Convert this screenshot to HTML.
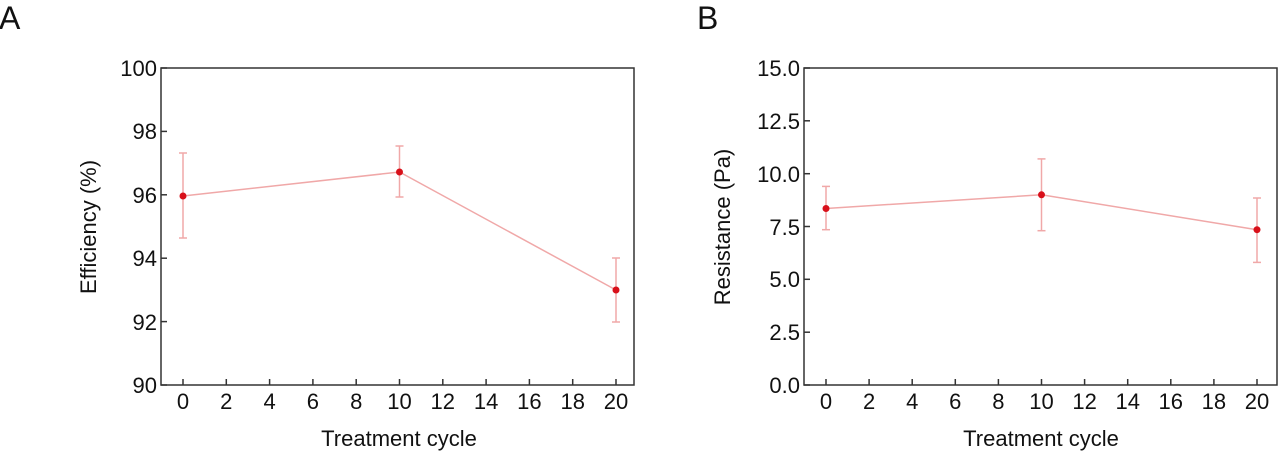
<!DOCTYPE html>
<html><head><style>body{margin:0;background:#fff}svg{display:block}</style></head><body>
<svg width="1280" height="451" xmlns="http://www.w3.org/2000/svg" font-family="Liberation Sans, Arial, sans-serif" fill="#111">
<text x="-1" y="29" font-size="32">A</text>
<text x="697" y="29" font-size="32">B</text>
<!-- Panel A -->
<g>
<rect x="161" y="68" width="473" height="317" fill="none" stroke="#333" stroke-width="1.5"/>
<g stroke="#333" stroke-width="1.5">
<line x1="161" y1="68" x2="167" y2="68"/><line x1="161" y1="131.4" x2="167" y2="131.4"/><line x1="161" y1="194.8" x2="167" y2="194.8"/><line x1="161" y1="258.2" x2="167" y2="258.2"/><line x1="161" y1="321.6" x2="167" y2="321.6"/><line x1="161" y1="385" x2="167" y2="385"/>
</g>
<g font-size="22" text-anchor="end">
<text x="157" y="76">100</text><text x="157" y="139">98</text><text x="157" y="203">96</text><text x="157" y="266">94</text><text x="157" y="330">92</text><text x="157" y="393">90</text>
</g>
<g stroke="#333" stroke-width="1.5">
<line x1="183" y1="385" x2="183" y2="379"/><line x1="226.3" y1="385" x2="226.3" y2="379"/><line x1="269.6" y1="385" x2="269.6" y2="379"/><line x1="312.9" y1="385" x2="312.9" y2="379"/><line x1="356.2" y1="385" x2="356.2" y2="379"/><line x1="399.5" y1="385" x2="399.5" y2="379"/><line x1="442.8" y1="385" x2="442.8" y2="379"/><line x1="486.1" y1="385" x2="486.1" y2="379"/><line x1="529.4" y1="385" x2="529.4" y2="379"/><line x1="572.7" y1="385" x2="572.7" y2="379"/><line x1="616" y1="385" x2="616" y2="379"/>
</g>
<g font-size="22" text-anchor="middle">
<text x="183" y="409">0</text><text x="226.3" y="409">2</text><text x="269.6" y="409">4</text><text x="312.9" y="409">6</text><text x="356.2" y="409">8</text><text x="399.5" y="409">10</text><text x="442.8" y="409">12</text><text x="486.1" y="409">14</text><text x="529.4" y="409">16</text><text x="572.7" y="409">18</text><text x="616" y="409">20</text>
</g>
<text x="399" y="446" font-size="22" text-anchor="middle">Treatment cycle</text>
<text transform="translate(96,227) rotate(-90)" font-size="22" text-anchor="middle">Efficiency (%)</text>
<g stroke="#f0a8a8" stroke-width="1.5" fill="none">
<polyline points="183,196 399.5,172 616,290"/>
<line x1="183" y1="153" x2="183" y2="238"/><line x1="179" y1="153" x2="187" y2="153"/><line x1="179" y1="238" x2="187" y2="238"/>
<line x1="399.5" y1="146" x2="399.5" y2="197"/><line x1="395.5" y1="146" x2="403.5" y2="146"/><line x1="395.5" y1="197" x2="403.5" y2="197"/>
<line x1="616" y1="258" x2="616" y2="322"/><line x1="612" y1="258" x2="620" y2="258"/><line x1="612" y1="322" x2="620" y2="322"/>
</g>
<g fill="#d8101a"><circle cx="183" cy="196" r="3.5"/><circle cx="399.5" cy="172" r="3.5"/><circle cx="616" cy="290" r="3.5"/></g>
</g>
<!-- Panel B -->
<g>
<rect x="804" y="68" width="473" height="317" fill="none" stroke="#333" stroke-width="1.5"/>
<g stroke="#333" stroke-width="1.5">
<line x1="804" y1="68" x2="810" y2="68"/><line x1="804" y1="120.8" x2="810" y2="120.8"/><line x1="804" y1="173.7" x2="810" y2="173.7"/><line x1="804" y1="226.5" x2="810" y2="226.5"/><line x1="804" y1="279.3" x2="810" y2="279.3"/><line x1="804" y1="332.2" x2="810" y2="332.2"/><line x1="804" y1="385" x2="810" y2="385"/>
</g>
<g font-size="22" text-anchor="end">
<text x="800" y="76">15.0</text><text x="800" y="129">12.5</text><text x="800" y="182">10.0</text><text x="800" y="235">7.5</text><text x="800" y="287">5.0</text><text x="800" y="340">2.5</text><text x="800" y="393">0.0</text>
</g>
<g stroke="#333" stroke-width="1.5">
<line x1="826" y1="385" x2="826" y2="379"/><line x1="869.1" y1="385" x2="869.1" y2="379"/><line x1="912.2" y1="385" x2="912.2" y2="379"/><line x1="955.3" y1="385" x2="955.3" y2="379"/><line x1="998.4" y1="385" x2="998.4" y2="379"/><line x1="1041.5" y1="385" x2="1041.5" y2="379"/><line x1="1084.6" y1="385" x2="1084.6" y2="379"/><line x1="1127.7" y1="385" x2="1127.7" y2="379"/><line x1="1170.8" y1="385" x2="1170.8" y2="379"/><line x1="1213.9" y1="385" x2="1213.9" y2="379"/><line x1="1257" y1="385" x2="1257" y2="379"/>
</g>
<g font-size="22" text-anchor="middle">
<text x="826" y="409">0</text><text x="869.1" y="409">2</text><text x="912.2" y="409">4</text><text x="955.3" y="409">6</text><text x="998.4" y="409">8</text><text x="1041.5" y="409">10</text><text x="1084.6" y="409">12</text><text x="1127.7" y="409">14</text><text x="1170.8" y="409">16</text><text x="1213.9" y="409">18</text><text x="1257" y="409">20</text>
</g>
<text x="1041" y="446" font-size="22" text-anchor="middle">Treatment cycle</text>
<text transform="translate(730,227) rotate(-90)" font-size="22" text-anchor="middle">Resistance (Pa)</text>
<g stroke="#f0a8a8" stroke-width="1.5" fill="none">
<polyline points="826,208.5 1041.5,194.8 1257,229.7"/>
<line x1="826" y1="186.4" x2="826" y2="229.7"/><line x1="822" y1="186.4" x2="830" y2="186.4"/><line x1="822" y1="229.7" x2="830" y2="229.7"/>
<line x1="1041.5" y1="158.9" x2="1041.5" y2="230.7"/><line x1="1037.5" y1="158.9" x2="1045.5" y2="158.9"/><line x1="1037.5" y1="230.7" x2="1045.5" y2="230.7"/>
<line x1="1257" y1="198" x2="1257" y2="262.4"/><line x1="1253" y1="198" x2="1261" y2="198"/><line x1="1253" y1="262.4" x2="1261" y2="262.4"/>
</g>
<g fill="#d8101a"><circle cx="826" cy="208.5" r="3.5"/><circle cx="1041.5" cy="194.8" r="3.5"/><circle cx="1257" cy="229.7" r="3.5"/></g>
</g>
</svg>
</body></html>
